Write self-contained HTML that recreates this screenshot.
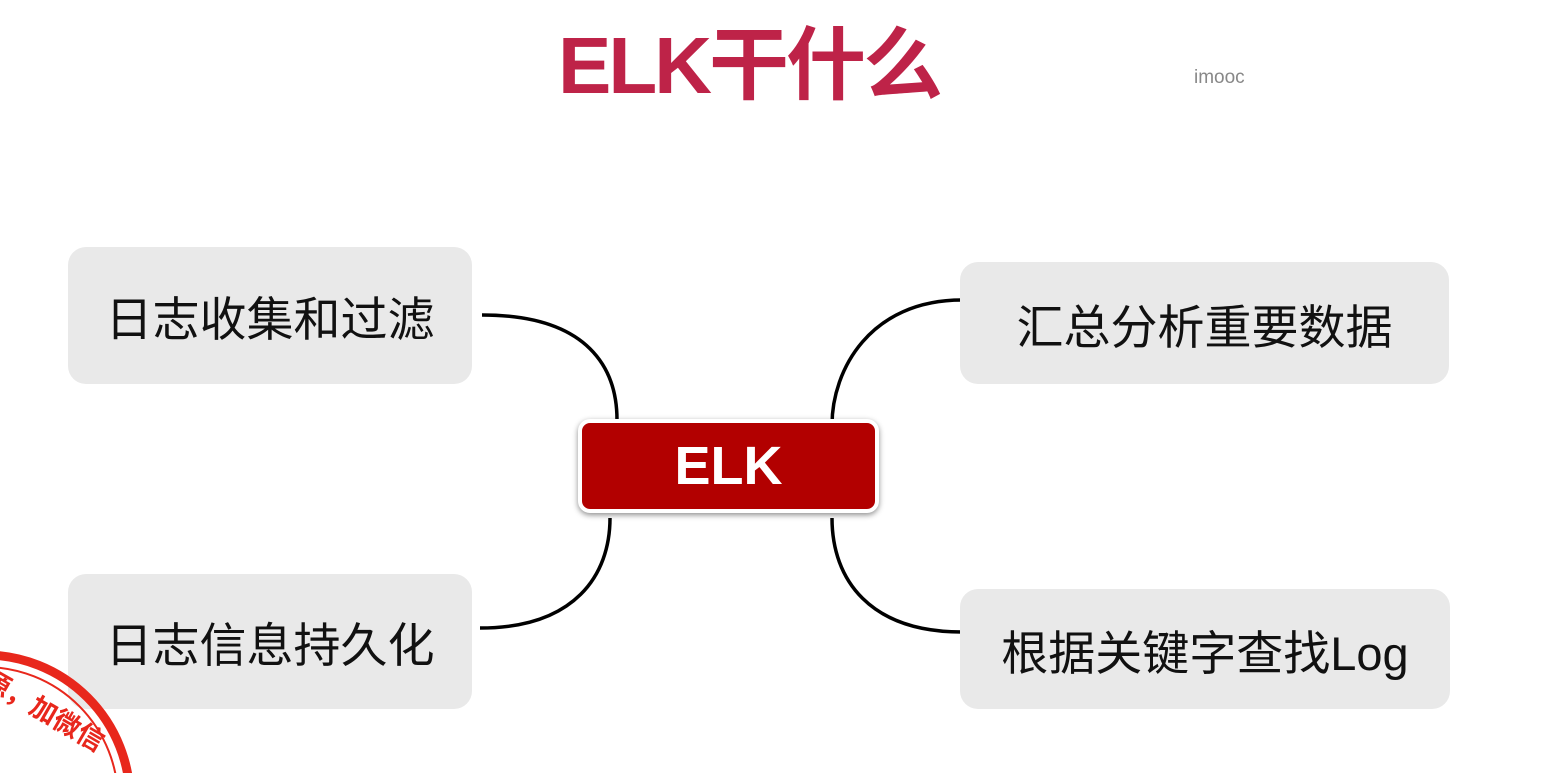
<!DOCTYPE html>
<html><head><meta charset="utf-8"><style>
html,body{margin:0;width:1560px;height:773px;overflow:hidden}
body{background:#fff;position:relative;font-family:"Liberation Sans","Noto Sans CJK SC",sans-serif}
.t{position:absolute;left:558px;top:16px;font-size:80px;font-weight:bold;color:#be2348;letter-spacing:-3px;line-height:100px}
.im{position:absolute;left:1194px;top:67px;font-size:19px;color:#888}
.b{position:absolute;background:#e9e9e9;border-radius:18px;display:flex;align-items:center;justify-content:center;font-size:47px;color:#111}
.elk{position:absolute;left:578px;top:419px;width:293px;height:86px;border:4px solid #fff;border-radius:12px;background:#b20000;box-shadow:0 2px 6px rgba(0,0,0,.45);color:#fff;font-weight:bold;font-size:54px;display:flex;align-items:center;justify-content:center}
</style></head><body>
<div class="t">ELK干什么</div>
<div class="im">imooc</div>
<svg width="1560" height="773" style="position:absolute;left:0;top:0" fill="none" stroke="#000" stroke-width="3.5">
<path d="M482,315 C590,315 617,370 617,420"/>
<path d="M962,300 C870,300 832,370 832,425"/>
<path d="M480,628 C575,628 610,575 610,518"/>
<path d="M962,632 C870,632 832,580 832,518"/>
</svg>
<div class="b" style="left:68px;top:247px;width:404px;height:137px">日志收集和过滤</div>
<div class="b" style="left:960px;top:262px;width:489px;height:122px">汇总分析重要数据</div>
<div class="b" style="left:68px;top:574px;width:404px;height:135px">日志信息持久化</div>
<div class="b" style="left:960px;top:589px;width:490px;height:120px">根据关键字查找Log</div>
<div class="elk">ELK</div>
<div style="position:absolute;left:0;top:600px;width:200px;height:173px;overflow:hidden">
<svg width="200" height="173" style="position:absolute;left:0;top:0" fill="none" stroke="#e8271c">
<circle cx="-15" cy="200" r="145" stroke-width="9"/>
<circle cx="-15" cy="200" r="133" stroke-width="2"/>
</svg>
<div style="position:absolute;left:-4px;top:58px;font-size:27px;font-weight:bold;color:#e8271c;transform:rotate(30deg);transform-origin:0 0;white-space:nowrap">源，加微信</div>
</div>
</body></html>
